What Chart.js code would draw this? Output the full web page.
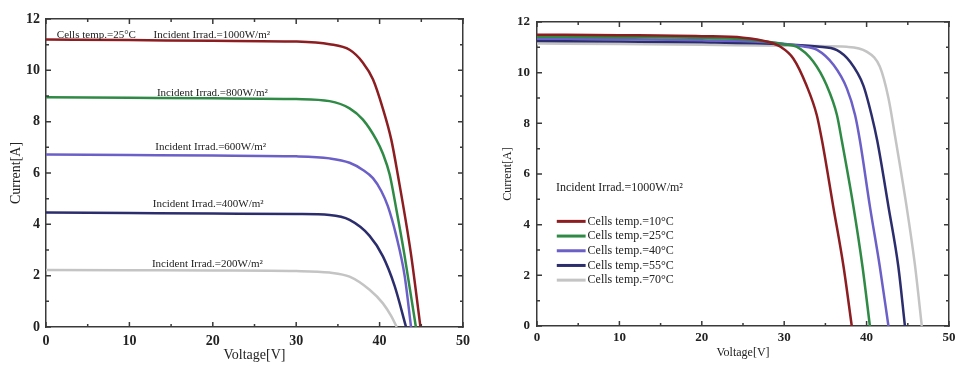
<!DOCTYPE html>
<html>
<head>
<meta charset="utf-8">
<script src="https://cdn.jsdelivr.net/npm/chart.js@4.4.0/dist/chart.umd.min.js"></script>
<style>
  html, body { margin: 0; padding: 0; background: #fff; }
  #wrap { position: relative; width: 964px; height: 371px; }
  canvas { position: absolute; top: 0; }
  #left { left: 0; }
  #right { left: 480px; }
</style>
</head>
<body>
<div id="wrap">
  <canvas id="left" width="480" height="371"></canvas>
  <canvas id="right" width="484" height="371"></canvas>
</div>
<script>
// ---------- DATA ----------

// left: irradiance curves at 25C
var irrLabels = ['1000W/m²', '800W/m²', '600W/m²', '400W/m²', '200W/m²'];
var v1000 = [0, 10, 20, 30, 34, 36.4, 38, 39.2, 40.4, 41.4, 42.2, 43.75, 44.9];
var i1000 = [11.2, 11.18, 11.15, 11.12, 11.02, 10.8, 10.3, 9.65, 8.5, 7.3, 5.9, 2.87, 0];
var v800 = [0, 10, 20, 30, 34, 36.4, 38, 39.6, 40.4, 41.2, 42, 42.95, 44.35];
var i800 = [8.95, 8.93, 8.91, 8.88, 8.8, 8.52, 8.08, 7.3, 6.75, 5.95, 4.6, 2.87, 0];
var v600 = [0, 10, 20, 30, 34, 36.4, 38, 39.2, 40.2, 41, 42, 43, 43.77];
var i600 = [6.72, 6.7, 6.68, 6.65, 6.57, 6.4, 6.12, 5.8, 5.3, 4.7, 3.55, 2.0, 0];
var v400 = [0, 10, 20, 30, 34, 36.4, 38.8, 40.4, 41.8, 43.17];
var i400 = [4.46, 4.44, 4.42, 4.4, 4.36, 4.17, 3.55, 2.75, 1.6, 0];
var v200 = [0, 10, 20, 30, 34, 36.4, 38.8, 40.4, 41.4, 42.05];
var i200 = [2.22, 2.21, 2.2, 2.18, 2.12, 1.96, 1.45, 0.92, 0.42, 0];

// right: temperature curves at 1000W/m2
var tempLabels = ['10', '25', '40', '55', '70'];
var v10 = [0, 10, 20, 25, 28, 29.5, 31.1, 32.7, 33.95, 34.6, 35.95, 37.2, 38.2];
var i10 = [11.5, 11.48, 11.44, 11.38, 11.22, 11.03, 10.56, 9.5, 8.33, 7.3, 4.72, 2.35, 0];
var v25 = [0, 10, 20, 26, 30, 31.5, 33.5, 35.15, 36.4, 37.0, 38.4, 39.5, 40.4];
var i25 = [11.42, 11.4, 11.37, 11.3, 11.12, 11.03, 10.45, 9.5, 8.33, 7.3, 4.72, 2.35, 0];
var v40 = [0, 10, 20, 28, 32, 34, 36, 37.6, 38.6, 39.2, 40.4, 41.6, 42.65];
var i40 = [11.34, 11.32, 11.28, 11.2, 11.05, 10.9, 10.3, 9.38, 8.33, 7.3, 4.72, 2.35, 0];
var v55 = [0, 10, 20, 30, 34, 36.4, 38, 39.6, 40.6, 41.3, 42.65, 43.85, 44.65];
var i55 = [11.25, 11.23, 11.2, 11.12, 11.03, 10.89, 10.43, 9.5, 8.33, 7.3, 4.72, 2.35, 0];
var v70 = [0, 10, 20, 30, 37.6, 40, 41.6, 42.65, 43.45, 44.85, 45.85, 46.7];
var i70 = [11.15, 11.13, 11.1, 11.06, 11.02, 10.83, 10.24, 9.0, 7.5, 4.72, 2.45, 0];

// axis ticks
var xTicks = [0, 10, 20, 30, 40, 50];
var yTicks = [0, 2, 4, 6, 8, 10, 12];

// ---------- STYLE ----------
var colors = ['#8c1d20', '#2f8a45', '#6b5fc8', '#2c2d6c', '#c4c4c4'];
var frameColor = '#3a3a3a';
var serif = "'Liberation Serif', 'Times New Roman', serif";

function pts(xs, ys) {
  return xs.map(function(x, k) { return { x: x, y: ys[k] }; });
}

function curve(label, xs, ys, color) {
  return {
    label: label,
    data: pts(xs, ys),
    showLine: true,
    borderColor: color,
    backgroundColor: color,
    borderWidth: 2.5,
    pointRadius: 0,
    cubicInterpolationMode: 'monotone',
    fill: false
  };
}

// inward tick marks on all four sides
var innerTicks = {
  id: 'innerTicks',
  afterDraw: function(chart) {
    var ctx = chart.ctx, a = chart.chartArea;
    var xs = chart.scales.x, ys = chart.scales.y;
    ctx.save();
    ctx.strokeStyle = frameColor;
    ctx.lineWidth = 1.5;
    ctx.beginPath();
    for (var v = xTicks[0]; v <= xTicks[xTicks.length - 1]; v += 5) {
      var px = xs.getPixelForValue(v);
      var len = (v % 10 === 0) ? 5 : 3;
      ctx.moveTo(px, a.bottom); ctx.lineTo(px, a.bottom - len);
      ctx.moveTo(px, a.top); ctx.lineTo(px, a.top + len);
    }
    for (var w = yTicks[0]; w <= yTicks[yTicks.length - 1]; w += 1) {
      var py = ys.getPixelForValue(w);
      var l2 = (w % 2 === 0) ? 5 : 3;
      ctx.moveTo(a.left, py); ctx.lineTo(a.left + l2, py);
      ctx.moveTo(a.right, py); ctx.lineTo(a.right - l2, py);
    }
    ctx.stroke();
    ctx.restore();
  }
};

function makeOptions(s) {
  return {
    responsive: false,
    animation: false,
    layout: { padding: 0 },
    plugins: { legend: { display: false }, tooltip: { enabled: false } },
    scales: {
      x: {
        type: 'linear', position: 'bottom', min: 0, max: 50,
        afterBuildTicks: function(sc) { sc.ticks = xTicks.map(function(v) { return { value: v }; }); },
        afterFit: function(sc) { sc.height = s.bottom; },
        grid: { drawOnChartArea: false, drawTicks: false },
        border: { color: frameColor, width: 1.5 },
        ticks: { color: '#222', padding: s.xPad, font: { family: serif, size: s.tickSize, weight: 'bold' } },
        title: { display: true, text: 'Voltage[V]', color: '#222', padding: { top: 0, bottom: s.xTitlePad },
                 font: { family: serif, size: s.titleSize } }
      },
      x2: {
        type: 'linear', position: 'top', min: 0, max: 50,
        afterFit: function(sc) { sc.height = s.top; },
        grid: { drawOnChartArea: false, drawTicks: false },
        border: { color: frameColor, width: 1.5 },
        ticks: { display: false }
      },
      y: {
        type: 'linear', position: 'left', min: 0, max: 12,
        afterBuildTicks: function(sc) { sc.ticks = yTicks.map(function(v) { return { value: v }; }); },
        afterFit: function(sc) { sc.width = s.left; },
        grid: { drawOnChartArea: false, drawTicks: false },
        border: { color: frameColor, width: 1.5 },
        ticks: { color: '#222', padding: s.yPad, font: { family: serif, size: s.tickSize, weight: 'bold' } },
        title: { display: true, text: 'Current[A]', color: '#222', padding: { top: s.yTitlePad, bottom: 0 },
                 font: { family: serif, size: s.titleSize } }
      },
      y2: {
        type: 'linear', position: 'right', min: 0, max: 12,
        afterFit: function(sc) { sc.width = s.right; },
        grid: { drawOnChartArea: false, drawTicks: false },
        border: { color: frameColor, width: 1.5 },
        ticks: { display: false }
      }
    }
  };
}

// ---------- LEFT CHART ----------
var leftNotes = [
  { text: 'Cells temp.=25°C', x: 1.3, y: 11.37 },
  { text: 'Incident Irrad.=' + irrLabels[0], x: 12.9, y: 11.37 },
  { text: 'Incident Irrad.=' + irrLabels[1], x: 13.3, y: 9.12 },
  { text: 'Incident Irrad.=' + irrLabels[2], x: 13.1, y: 7.01 },
  { text: 'Incident Irrad.=' + irrLabels[3], x: 12.8, y: 4.79 },
  { text: 'Incident Irrad.=' + irrLabels[4], x: 12.7, y: 2.45 }
];

var leftNotesPlugin = {
  id: 'leftNotes',
  afterDatasetsDraw: function(chart) {
    var ctx = chart.ctx;
    ctx.save();
    ctx.font = '11px ' + serif;
    ctx.fillStyle = '#222';
    ctx.textAlign = 'left';
    ctx.textBaseline = 'middle';
    leftNotes.forEach(function(n) {
      ctx.fillText(n.text, chart.scales.x.getPixelForValue(n.x), chart.scales.y.getPixelForValue(n.y));
    });
    ctx.restore();
  }
};

var leftChart = new Chart(document.getElementById('left'), {
  type: 'scatter',
  data: {
    datasets: [
      curve(irrLabels[0], v1000, i1000, colors[0]),
      curve(irrLabels[1], v800, i800, colors[1]),
      curve(irrLabels[2], v600, i600, colors[2]),
      curve(irrLabels[3], v400, i400, colors[3]),
      curve(irrLabels[4], v200, i200, colors[4])
    ]
  },
  options: makeOptions({ left: 46, right: 17, top: 19, bottom: 44, tickSize: 14, titleSize: 14,
                         xPad: 5.6, yPad: 6, xTitlePad: 7.6, yTitlePad: 7.6 }),
  plugins: [innerTicks, leftNotesPlugin]
});

// ---------- RIGHT CHART ----------
var rightLegend = {
  id: 'rightLegend',
  afterDatasetsDraw: function(chart) {
    var ctx = chart.ctx, xs = chart.scales.x, ys = chart.scales.y;
    ctx.save();
    ctx.font = '12px ' + serif;
    ctx.fillStyle = '#222';
    ctx.textAlign = 'left';
    ctx.textBaseline = 'middle';
    ctx.fillText('Incident Irrad.=' + irrLabels[0], xs.getPixelForValue(2.3), ys.getPixelForValue(5.45));
    chart.data.datasets.forEach(function(ds, k) {
      var py = ys.getPixelForValue(4.13 - k * 0.58);
      var x0 = xs.getPixelForValue(2.4), x1 = xs.getPixelForValue(5.9);
      ctx.strokeStyle = ds.borderColor;
      ctx.lineWidth = 3;
      ctx.beginPath();
      ctx.moveTo(x0, py); ctx.lineTo(x1, py);
      ctx.stroke();
      ctx.fillText('Cells temp.=' + ds.label + '°C', x1 + 2, py);
    });
    ctx.restore();
  }
};

var rightChart = new Chart(document.getElementById('right'), {
  type: 'scatter',
  data: {
    datasets: [
      curve(tempLabels[0], v10, i10, colors[0]),
      curve(tempLabels[1], v25, i25, colors[1]),
      curve(tempLabels[2], v40, i40, colors[2]),
      curve(tempLabels[3], v55, i55, colors[3]),
      curve(tempLabels[4], v70, i70, colors[4])
    ]
  },
  options: makeOptions({ left: 57, right: 15, top: 22, bottom: 45, tickSize: 13, titleSize: 12,
                         xPad: 4.2, yPad: 7, xTitlePad: 10.8, yTitlePad: 20.8 }),
  plugins: [innerTicks, rightLegend]
});
</script>
</body>
</html>
